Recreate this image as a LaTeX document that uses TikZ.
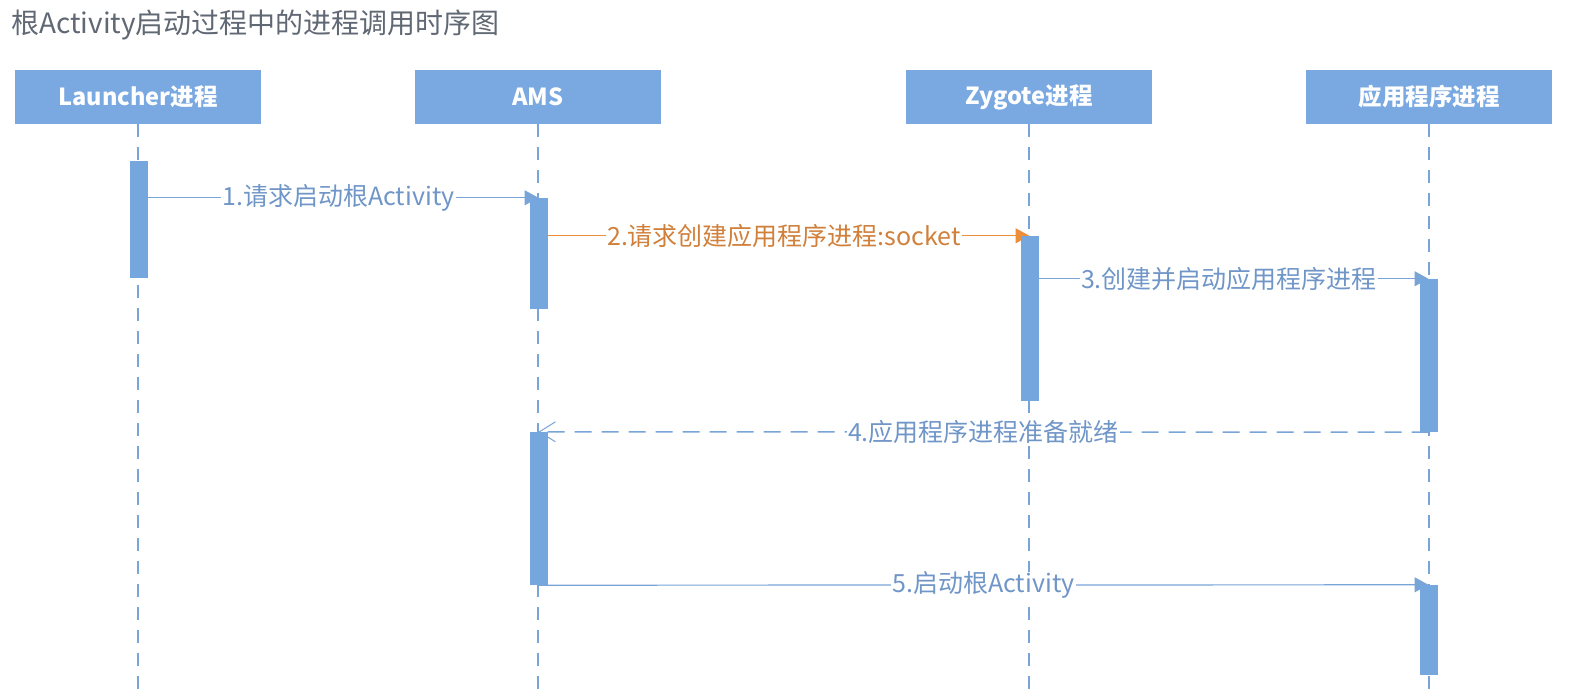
\documentclass[tikz,border=0pt]{standalone}
\usepackage{fontspec}
\setmainfont{Noto Sans CJK SC}
\usetikzlibrary{arrows.meta,shadows.blur}
\definecolor{boxblue}{RGB}{122,168,224}
\definecolor{barblue}{RGB}{118,166,222}
\definecolor{lineblue}{RGB}{120,164,216}
\definecolor{labblue}{RGB}{112,150,200}
\definecolor{msgorange}{RGB}{236,142,58}
\definecolor{laborange}{RGB}{208,128,58}
\definecolor{titlegray}{RGB}{96,104,116}
\pgfdeclarelayer{fg}
\pgfsetlayers{main,fg}
\tikzset{
  hbox/.style={rectangle, fill=boxblue, draw=none, text=white, minimum width=246pt, minimum height=54pt, inner sep=0pt, font=\bfseries\fontsize{23.5}{26}\selectfont,
    blur shadow={shadow xshift=0pt, shadow yshift=-4pt, shadow opacity=12, shadow scale=0.75, shadow blur steps=6}},
  actbar/.style={rectangle, fill=barblue, draw=none, minimum width=18pt, inner sep=0pt},
  lifeline/.style={draw=lineblue, line width=1.5pt, dash pattern=on 13pt off 10pt},
  msg/.style={draw=lineblue, line width=1.2pt, -{Triangle[length=14pt,width=15pt]}},
  msgorg/.style={draw=msgorange, line width=1.2pt, -{Triangle[length=14pt,width=15pt]}},
  msgret/.style={draw=lineblue, line width=1.4pt, dash pattern=on 17pt off 10pt, -{Straight Barb[length=16pt,width=20pt,line width=1pt]}},
  lab/.style={fill=white, inner xsep=1pt, inner ysep=0pt, text=labblue, font=\fontsize{25}{28}\selectfont},
  laborg/.style={lab, text=laborange}
}
\begin{document}
\begin{tikzpicture}[x=1pt,y=-1pt]
\useasboundingbox (0,0) rectangle (1584,700);
\node[anchor=west, text=titlegray, font=\fontsize{28}{31}\selectfont, inner sep=0pt] (title) at (11,25) {根Activity启动过程中的进程调用时序图};
% headers
\node[hbox] (L) at (138,97) {Launcher进程};
\node[hbox] (A) at (538,97) {AMS};
\node[hbox] (Z) at (1029,97) {Zygote进程};
\node[hbox] (P) at (1429,97) {应用程序进程};
% lifeline ends
\coordinate (Le) at (138,690);
\coordinate (Ae) at (538,690);
\coordinate (Ze) at (1029,690);
\coordinate (Pe) at (1429,690);
\draw[lifeline] (L.south) -- (Le);
\draw[lifeline] (A.south) -- (Ae);
\draw[lifeline] (Z.south) -- (Ze);
\draw[lifeline] (P.south) -- (Pe);
% activation bars
\begin{pgfonlayer}{fg}
\node[actbar, minimum height=117pt] (Lb) at (138.5,219.5) {};
\node[actbar, minimum height=111pt] (A1) at (538.5,253.5) {};
\node[actbar, minimum height=165pt] (Z1) at (1029.5,318.5) {};
\node[actbar, minimum height=153pt] (P1) at (1428.5,355.5) {};
\node[actbar, minimum height=153pt] (A2) at (538.5,508.5) {};
\node[actbar, minimum height=90pt] (P2) at (1428.5,630) {};
\end{pgfonlayer}
% messages
\draw[msg] (Lb.center |- A1.north) -- node[lab] (m1) {1.请求启动根Activity} (A1.north);
\draw[msgorg] (A1.center |- Z1.north) -- node[laborg] (m2) {2.请求创建应用程序进程:socket} (Z1.north);
\draw[msg] (Z1.center |- P1.north) -- node[lab] (m3) {3.创建并启动应用程序进程} (P1.north);
\draw[msgret] (P1.south) -- node[lab] (m4) {4.应用程序进程准备就绪} (A2.north);
\draw[msg] (A2.south) -- node[lab] (m5) {5.启动根Activity} (P2.north);
\end{tikzpicture}
\end{document}
